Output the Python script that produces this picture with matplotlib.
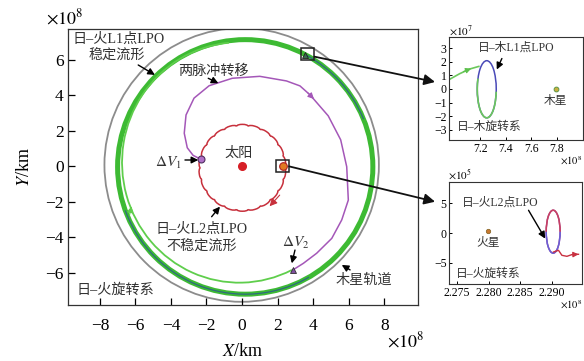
import numpy as np
import matplotlib.pyplot as plt
from matplotlib.patches import Circle, Arc, Ellipse, Rectangle, ConnectionPatch

plt.rcParams['font.family'] = ['Liberation Serif', 'Noto Sans CJK SC']
plt.rcParams['mathtext.fontset'] = 'stix'

# ---- 主图：日-火旋转系，单位 1e8 km ----
jupiter_orbit = (-0.02, 0.08, 7.72)          # 圆心 x, 圆心 y, 半径
l1_band = (0.18, -0.03, 7.18)                # 日-木L1点LPO稳定流形（粗带）
l1_band_dark_spans = [(200, 300), (22, 62)]  # 带内深色轨迹所在角度段
l1_thin = (-0.15, 0.22, 6.60, 6.78)          # 细绿线：圆心x, 圆心y, 半轴a, 半轴b
l1_thin_span = (95, 296)

l2_center = (0.02, -0.08)                    # 日-火L2点LPO不稳定流形
l2_radius = 2.36
l2_cusps = [0, 16, 33, 49, 65, 82, 98, 115, 131, 147, 164, 180,
            196, 213, 229, 245, 262, 278, 295, 311, 327, 344]

transfer_x = [-2.31, -2.75, -3.08, -3.25, -3.15, -2.70, -1.85, -0.55, 1.00, 2.50,
              3.26, 3.83, 4.85, 5.55, 5.89, 5.98, 5.61, 5.05, 4.20, 3.45, 2.85]
transfer_y = [0.40, 0.62, 1.05, 1.87, 2.90, 3.85, 4.55, 4.97, 5.08, 4.82,
              4.54, 4.03, 2.85, 1.50, -0.02, -1.90, -3.02, -4.06, -4.90, -5.47, -5.85]

sun = (0.0, 0.0)
mars = (2.33, 0.04)
dv1 = (-2.31, 0.40)
dv2 = (2.85, -5.85)
lpo_mark = (3.55, 6.28)

# ---- 子图1：日-木旋转系（x:1e8 km, y:1e7 km） ----
jup_lpo = (7.252, -0.02, 0.148, 4.2)         # 中心 x, 中心 y, 宽, 高
jup_in_x = [6.968, 7.04, 7.12, 7.19]
jup_in_y = [0.74, 1.12, 1.47, 1.66]
jupiter = (7.79, 0.0)

# ---- 子图2：日-火旋转系（x:1e8 km, y:1e5 km） ----
mars_lpo = (2.2902, 0.22, 0.0022, 7.2)
mars_out_x = [2.29025, 2.29104, 2.29158, 2.29237, 2.29316, 2.2942]
mars_out_y = [-3.19, -2.90, -3.74, -3.91, -3.62, -3.57]
mars_pt = (2.27989, 0.28)

gray = '#8c8c8c'
green = '#3dba33'
lgreen = '#5fce4c'
dark = '#2f6a80'
purple = '#a457b8'
red = '#c7303c'

W, H = 584, 361
fig = plt.figure(figsize=(W / 100, H / 100), dpi=100)


def fpos(px, py):
    return px / W, 1 - py / H


ax = fig.add_axes([68 / W, 1 - 305 / H, 350 / W, 276 / H])
ax.set_xlim(-9.79, 9.90)
ax.set_ylim(-7.82, 7.75)

ax.add_patch(Circle(jupiter_orbit[:2], jupiter_orbit[2], fill=False, ec=gray, lw=1.3))
ax.add_patch(Circle(l1_band[:2], l1_band[2], fill=False, ec=green, lw=3.6))
for t1, t2 in l1_band_dark_spans:
    ax.add_patch(Arc(l1_band[:2], 2 * l1_band[2], 2 * l1_band[2], theta1=t1, theta2=t2,
                     color=dark, lw=0.9))
ax.add_patch(Arc(l1_thin[:2], 2 * l1_thin[2], 2 * l1_thin[3], theta1=l1_thin_span[0],
                 theta2=l1_thin_span[1], color=lgreen, lw=1.3))

# 扇贝状的不稳定流形
cx, cy = l2_center
cusps = l2_cusps + [l2_cusps[0] + 360]
for a0, a1 in zip(cusps[:-1], cusps[1:]):
    mid = np.radians((a0 + a1) / 2)
    half = np.radians((a1 - a0) / 2)
    rc = l2_radius * np.cos(half)
    chord = 2 * l2_radius * np.sin(half)
    sag = l2_radius - rc + 0.09
    ax.add_patch(Arc((cx + rc * np.cos(mid), cy + rc * np.sin(mid)), chord, 2 * sag,
                     angle=np.degrees(mid) - 90, theta1=0, theta2=180, color=red, lw=1.1))

ax.plot(transfer_x, transfer_y, color=purple, lw=1.1)

# 轨迹方向箭头
def head(a, xy0, xy1, c, ms=9):
    a.annotate('', xy=xy1, xytext=xy0,
               arrowprops=dict(arrowstyle='-|>', color=c, lw=0.8, mutation_scale=ms,
                               shrinkA=0, shrinkB=0))

head(ax, (3.70, 4.15), (4.05, 3.80), purple)
head(ax, (-6.33, -2.75), (-6.22, -2.25), lgreen)
head(ax, (2.12, -1.62), (1.55, -2.25), red, ms=11)

ax.plot(*sun, 'o', color='#d61f26', ms=5.5)
ax.plot(*mars, 'o', color='#e07a22', mec='#b02020', ms=5.5, mew=0.8)
ax.plot(*dv1, 'o', color='#b070c8', mec='#503060', ms=5, mew=0.8)
ax.plot(*dv2, '^', color='#8050a0', mec='#303030', ms=4.5, mew=0.6)
ax.plot(*lpo_mark, '^', color='#3a6a50', mec='#202020', ms=4, mew=0.6)

ax.add_patch(Rectangle((1.90, -0.30), 0.75, 0.66, fill=False, ec='#222222', lw=1.1))
ax.add_patch(Rectangle((3.32, 6.00), 0.75, 0.66, fill=False, ec='#222222', lw=1.1))

# 文字说明
tk = dict(fontsize=10.2, color='#333333', ha='center', va='center')
ax.text(-6.96, 7.17, '日–火L1点LPO', **tk)
ax.text(-7.05, 6.23, '稳定流形', **tk)
ax.text(-1.62, 5.38, '两脉冲转移', **tk)
ax.text(-0.21, 0.74, '太阳', **tk)
ax.text(-2.27, -3.55, '日–火L2点LPO', **tk)
ax.text(-2.27, -4.53, '不稳定流形', **tk)
ax.text(6.83, -6.41, '木星轨道', **tk)
ax.text(-7.15, -6.98, '日–火旋转系', **tk)
ax.text(-4.15, 0.17, r'$\Delta V_1$', fontsize=11, ha='center', va='center', color='#333333')
ax.text(3.04, -4.34, r'$\Delta V_2$', fontsize=11, ha='center', va='center', color='#333333')

blk = dict(arrowstyle='-|>', color='black', lw=1.0, mutation_scale=10, shrinkA=0, shrinkB=0)
ax.annotate('', xy=(-4.90, 5.16), xytext=(-5.84, 5.72), arrowprops=blk)
ax.annotate('', xy=(-1.33, 4.69), xytext=(-1.90, 4.97), arrowprops=blk)
ax.annotate('', xy=(-2.46, 0.36), xytext=(-3.21, 0.36), arrowprops=blk)
ax.annotate('', xy=(-1.24, -2.27), xytext=(-1.71, -2.84), arrowprops=blk)
ax.annotate('', xy=(2.80, -5.47), xytext=(2.98, -4.72), arrowprops=blk)
ax.annotate('', xy=(5.61, -5.56), xytext=(6.08, -5.84), arrowprops=blk)

ax.set_xticks(range(-8, 9, 2))
ax.set_yticks(range(-6, 7, 2))
ax.tick_params(direction='in', length=5, width=0.9, labelsize=12.5,
               top=False, right=False)
ax.tick_params(axis='x', pad=9)
ax.tick_params(axis='y', pad=3)
for s in ax.spines.values():
    s.set_linewidth(0.9)
    s.set_color('#333333')
ax.set_xlabel(r'$X$/km', fontsize=13, labelpad=7)
ax.set_ylabel(r'$Y$/km', fontsize=13, labelpad=9)
fig.text(*fpos(46, 18), r'$\times10^8$', fontsize=13, ha='left', va='center')
fig.text(*fpos(387, 341), r'$\times10^8$', fontsize=13, ha='left', va='center')

# ---- 子图1 ----
ax1 = fig.add_axes([449.3 / W, 1 - 140 / H, 133.4 / W, 102.7 / H])
ax1.set_xlim(6.96, 8.0)
ax1.set_ylim(-3.75, 3.8)
ex, ey, ew, eh = jup_lpo
ax1.add_patch(Ellipse((ex, ey), ew, eh, fill=False, ec='#4a4ab8', lw=1.1))
ax1.add_patch(Arc((ex, ey), ew, eh, theta1=95, theta2=292, color='#6cc85c', lw=1.2))
ax1.plot(jup_in_x, jup_in_y, color='#6cc85c', lw=1.2)
head(ax1, (7.07, 1.28), (7.13, 1.50), '#5cc04c', ms=8)
ax1.plot(*jupiter, 'o', color='#c8b040', mec='#509040', ms=3.5, mew=0.6)
ax1.text(7.79, -0.85, '木星', fontsize=8.5, ha='center', va='center', color='#333333')
ax1.text(7.48, 3.0, '日–木L1点LPO', fontsize=8.5, ha='center', va='center', color='#333333')
ax1.text(7.27, -2.8, '日–木旋转系', fontsize=8.5, ha='center', va='center', color='#333333')
ax1.annotate('', xy=(7.33, 1.43), xytext=(7.37, 2.24), arrowprops=blk)
ax1.set_xticks([7.2, 7.4, 7.6, 7.8])
ax1.set_yticks(range(-3, 4))

# ---- 子图2 ----
ax2 = fig.add_axes([449.3 / W, 1 - 284.3 / H, 133 / W, 102.6 / H])
ax2.set_xlim(2.2738, 2.2948)
ax2.set_ylim(-8.6, 8.6)
mx, my, mw, mh = mars_lpo
ax2.add_patch(Ellipse((mx, my), mw, mh, fill=False, ec='#a04890', lw=1.1))
ax2.add_patch(Arc((mx, my), mw, mh, theta1=150, theta2=290, color='#6a60d8', lw=1.1))
ax2.add_patch(Arc((mx, my), mw, mh, theta1=40, theta2=150, color='#c84064', lw=1.1))
ax2.plot(mars_out_x, mars_out_y, color='#c83040', lw=1.0)
head(ax2, (2.29316, -3.62), (2.2942, -3.57), '#c83040', ms=8)
ax2.plot(*mars_pt, 'o', color='#c87830', mec='#806020', ms=3.2, mew=0.5)
ax2.text(2.2800, -1.68, '火星', fontsize=8.5, ha='center', va='center', color='#333333')
ax2.text(2.28184, 5.1, '日–火L2点LPO', fontsize=8.5, ha='center', va='center', color='#333333')
ax2.text(2.2800, -6.81, '日–火旋转系', fontsize=8.5, ha='center', va='center', color='#333333')
ax2.annotate('', xy=(2.28894, -0.94), xytext=(2.28631, 3.81), arrowprops=blk)
ax2.set_xticks([2.275, 2.280, 2.285, 2.290])
ax2.set_xticklabels(['2.275', '2.280', '2.285', '2.290'])
ax2.set_yticks([-5, 0, 5])

for a in (ax1, ax2):
    a.tick_params(direction='in', length=2.5, width=0.7, labelsize=8.5, pad=2,
                  top=False, right=False)
    for s in a.spines.values():
        s.set_linewidth(0.8)
        s.set_color('#333333')

fig.text(*fpos(449, 31), r'$\times10^7$', fontsize=8, ha='left', va='center')
fig.text(*fpos(582, 161), r'$\times10^8$', fontsize=7.5, ha='right', va='center')
fig.text(*fpos(448, 175), r'$\times10^5$', fontsize=8, ha='left', va='center')
fig.text(*fpos(582, 305), r'$\times10^8$', fontsize=7.5, ha='right', va='center')

# 主图到子图的引线
for xyA, xyB, sub in [((4.07, 6.19), (-0.107, 0.565), ax1),
                      ((2.65, 0.0), (-0.107, 0.805), ax2)]:
    cp = ConnectionPatch(xyA=xyA, coordsA=ax.transData, xyB=xyB, coordsB=sub.transAxes,
                         arrowstyle='-|>', mutation_scale=16, lw=1.3, color='#111111')
    fig.add_artist(cp)

fig.savefig('out.png', dpi=100)
